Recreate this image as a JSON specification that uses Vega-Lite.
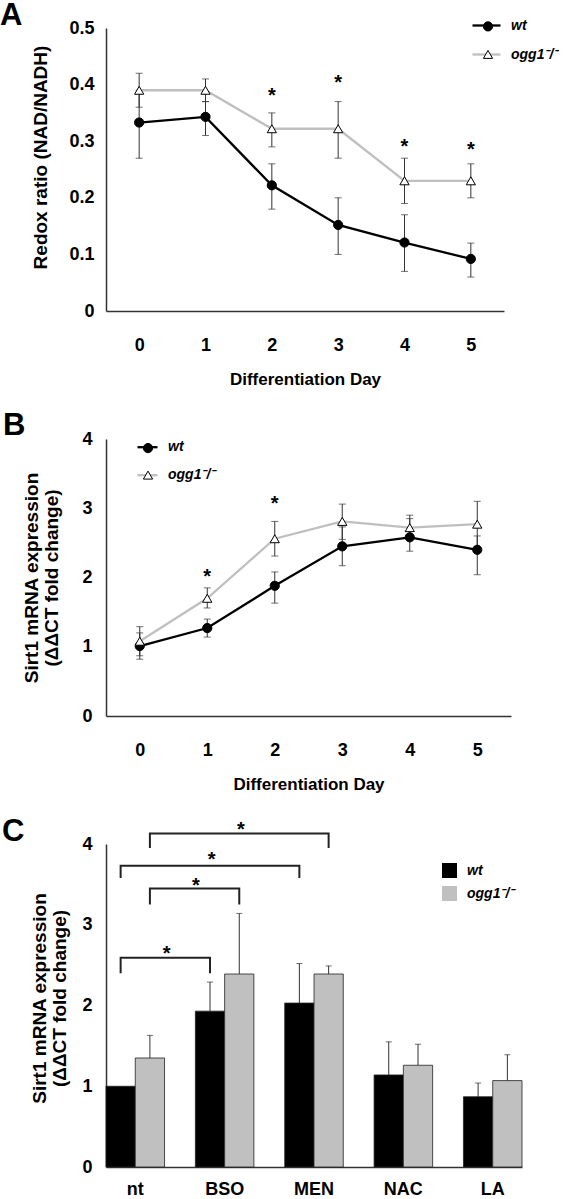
{
  "$schema": "https://vega.github.io/schema/vega-lite/v6.json",
  "padding": {"left": 0, "top": 0, "right": 0, "bottom": 0},
  "background": "white",
  "spacing": 23,
  "config": {
    "view": {"stroke": null},
    "font": "Liberation Sans",
    "axis": {"grid": false, "ticks": false, "domainColor": "#333333", "domainWidth": 1.5, "labelFont": "Liberation Sans", "labelFontWeight": "bold", "labelFontSize": 18, "labelColor": "black", "titleFont": "Liberation Sans", "titleFontWeight": "bold", "titleColor": "black", "labelOverlap": false},
    "legend": {"orient": "none", "padding": 0, "labelFont": "Liberation Sans", "labelFontStyle": "italic", "labelFontWeight": "bold", "labelFontSize": 14, "labelColor": "black"},
    "title": {"anchor": "start", "frame": "group", "fontSize": 31, "fontWeight": "bold", "font": "Liberation Sans", "color": "black", "baseline": "alphabetic"}
  },
  "resolve": {"scale": {"fill": "independent", "stroke": "independent", "shape": "independent", "color": "independent", "x": "independent", "y": "independent"}},
  "vconcat": [
    {
      "width": 398, "height": 283,
      "title": {"text": "A", "dx": -106, "offset": -22},
      "data": {"values": [
        {"day": 0, "g": "wt", "m": 0.333, "lo": 0.27, "hi": 0.39},
        {"day": 1, "g": "wt", "m": 0.343, "lo": 0.31, "hi": 0.37},
        {"day": 2, "g": "wt", "m": 0.222, "lo": 0.18, "hi": 0.26},
        {"day": 3, "g": "wt", "m": 0.152, "lo": 0.10, "hi": 0.20},
        {"day": 4, "g": "wt", "m": 0.121, "lo": 0.07, "hi": 0.17},
        {"day": 5, "g": "wt", "m": 0.092, "lo": 0.06, "hi": 0.12},
        {"day": 0, "g": "ogg1⁻/⁻", "m": 0.39, "lo": 0.36, "hi": 0.42},
        {"day": 1, "g": "ogg1⁻/⁻", "m": 0.39, "lo": 0.37, "hi": 0.41},
        {"day": 2, "g": "ogg1⁻/⁻", "m": 0.322, "lo": 0.29, "hi": 0.35},
        {"day": 3, "g": "ogg1⁻/⁻", "m": 0.322, "lo": 0.27, "hi": 0.37},
        {"day": 4, "g": "ogg1⁻/⁻", "m": 0.23, "lo": 0.19, "hi": 0.27},
        {"day": 5, "g": "ogg1⁻/⁻", "m": 0.23, "lo": 0.20, "hi": 0.26}
      ]},
      "encoding": {
        "x": {"field": "day", "type": "quantitative", "scale": {"domain": [-0.5, 5.5], "nice": false, "zero": false},
              "axis": {"values": [0, 1, 2, 3, 4, 5], "format": "d", "title": "Differentiation Day", "titleFontSize": 17, "labelPadding": 25, "titlePadding": 17}}
      },
      "layer": [
        {"mark": {"type": "rule", "color": "#333333", "strokeWidth": 1},
         "encoding": {"y": {"field": "lo", "type": "quantitative", "scale": {"domain": [0, 0.5], "nice": false},
                            "axis": {"values": [0, 0.1, 0.2, 0.3, 0.4, 0.5], "format": ".1~f", "title": "Redox ratio (NAD/NADH)", "titleFontSize": 19, "labelPadding": 12, "titlePadding": 18, "titleY": 129}},
                      "y2": {"field": "hi"}}},
        {"mark": {"type": "tick", "orient": "horizontal", "color": "#333333", "size": 7, "thickness": 1},
         "encoding": {"y": {"field": "lo", "type": "quantitative"}}},
        {"mark": {"type": "tick", "orient": "horizontal", "color": "#333333", "size": 7, "thickness": 1},
         "encoding": {"y": {"field": "hi", "type": "quantitative"}}},
        {"mark": {"type": "line", "strokeWidth": 2.3},
         "encoding": {"y": {"field": "m", "type": "quantitative"},
                      "stroke": {"field": "g", "type": "nominal", "scale": {"domain": ["wt", "ogg1⁻/⁻"], "range": ["black", "#bfbfbf"]},
                                 "legend": {"title": null, "orient": "none", "symbolType": "stroke", "symbolSize": 784, "symbolStrokeWidth": 2.3, "legendX": 365, "legendY": -18, "labelOffset": 9, "rowPadding": 6}}}},
        {"mark": {"type": "point", "filled": true, "stroke": "black", "strokeWidth": 1, "size": 85, "opacity": 1},
         "encoding": {"y": {"field": "m", "type": "quantitative"},
                      "shape": {"field": "g", "type": "nominal", "sort": ["wt", "ogg1⁻/⁻"], "scale": {"range": ["circle", "triangle-up"]},
                                "legend": {"title": null, "orient": "none", "values": ["ogg1⁻/⁻"], "symbolSize": 85, "symbolFillColor": "white", "symbolStrokeColor": "black", "symbolStrokeWidth": 1, "legendX": 375, "legendY": 19.4, "labelOpacity": 0}},
                      "color": {"field": "g", "type": "nominal", "sort": ["wt", "ogg1⁻/⁻"], "scale": {"range": ["black", "white"]},
                               "legend": {"title": null, "orient": "none", "values": ["wt"], "symbolType": "circle", "symbolSize": 85, "symbolStrokeColor": "black", "symbolStrokeWidth": 1, "legendX": 375, "legendY": -8.6, "labelOpacity": 0}}}},
        {"data": {"values": [{"day": 2, "y": 0.39}, {"day": 3, "y": 0.413}, {"day": 4, "y": 0.30}, {"day": 5, "y": 0.295}]},
         "mark": {"type": "text", "text": "*", "fontSize": 20, "fontWeight": "bold", "baseline": "middle", "dy": 6, "color": "black"},
         "encoding": {"y": {"field": "y", "type": "quantitative"}}}
      ]
    },
    {
      "width": 405, "height": 277,
      "title": {"text": "B", "dx": -103, "offset": -12},
      "data": {"values": [
        {"day": 0, "g": "wt", "m": 1.01, "lo": 0.82, "hi": 1.20},
        {"day": 1, "g": "wt", "m": 1.27, "lo": 1.14, "hi": 1.40},
        {"day": 2, "g": "wt", "m": 1.88, "lo": 1.63, "hi": 2.08},
        {"day": 3, "g": "wt", "m": 2.45, "lo": 2.17, "hi": 2.73},
        {"day": 4, "g": "wt", "m": 2.58, "lo": 2.38, "hi": 2.85},
        {"day": 5, "g": "wt", "m": 2.40, "lo": 2.04, "hi": 2.60},
        {"day": 0, "g": "ogg1⁻/⁻", "m": 1.08, "lo": 0.87, "hi": 1.29},
        {"day": 1, "g": "ogg1⁻/⁻", "m": 1.70, "lo": 1.56, "hi": 1.85},
        {"day": 2, "g": "ogg1⁻/⁻", "m": 2.56, "lo": 2.31, "hi": 2.81},
        {"day": 3, "g": "ogg1⁻/⁻", "m": 2.81, "lo": 2.55, "hi": 3.06},
        {"day": 4, "g": "ogg1⁻/⁻", "m": 2.72, "lo": 2.56, "hi": 2.90},
        {"day": 5, "g": "ogg1⁻/⁻", "m": 2.77, "lo": 2.44, "hi": 3.10}
      ]},
      "encoding": {
        "x": {"field": "day", "type": "quantitative", "scale": {"domain": [-0.5, 5.5], "nice": false, "zero": false},
              "axis": {"values": [0, 1, 2, 3, 4, 5], "format": "d", "title": "Differentiation Day", "titleFontSize": 17, "labelPadding": 25, "titlePadding": 17}}
      },
      "layer": [
        {"mark": {"type": "rule", "color": "#333333", "strokeWidth": 1},
         "encoding": {"y": {"field": "lo", "type": "quantitative", "scale": {"domain": [0, 4], "nice": false},
                            "axis": {"values": [0, 1, 2, 3, 4], "format": "d", "title": ["Sirt1 mRNA expression", "(ΔΔCT fold change)"], "titleFontSize": 19, "titleLineHeight": 20, "labelPadding": 14, "titlePadding": 20}},
                      "y2": {"field": "hi"}}},
        {"mark": {"type": "tick", "orient": "horizontal", "color": "#333333", "size": 7, "thickness": 1},
         "encoding": {"y": {"field": "lo", "type": "quantitative"}}},
        {"mark": {"type": "tick", "orient": "horizontal", "color": "#333333", "size": 7, "thickness": 1},
         "encoding": {"y": {"field": "hi", "type": "quantitative"}}},
        {"mark": {"type": "line", "strokeWidth": 2.3},
         "encoding": {"y": {"field": "m", "type": "quantitative"},
                      "stroke": {"field": "g", "type": "nominal", "scale": {"domain": ["wt", "ogg1⁻/⁻"], "range": ["black", "#bfbfbf"]},
                                 "legend": {"title": null, "orient": "none", "symbolType": "stroke", "symbolSize": 400, "symbolStrokeWidth": 2.3, "legendX": 30, "legendY": -3.3, "labelOffset": 9, "rowPadding": 9}}}},
        {"mark": {"type": "point", "filled": true, "stroke": "black", "strokeWidth": 1, "size": 85, "opacity": 1},
         "encoding": {"y": {"field": "m", "type": "quantitative"},
                      "shape": {"field": "g", "type": "nominal", "sort": ["wt", "ogg1⁻/⁻"], "scale": {"range": ["circle", "triangle-up"]},
                                "legend": {"title": null, "orient": "none", "values": ["ogg1⁻/⁻"], "symbolSize": 85, "symbolFillColor": "white", "symbolStrokeColor": "black", "symbolStrokeWidth": 1, "legendX": 35, "legendY": 29.1, "labelOpacity": 0}},
                      "color": {"field": "g", "type": "nominal", "sort": ["wt", "ogg1⁻/⁻"], "scale": {"range": ["black", "white"]},
                               "legend": {"title": null, "orient": "none", "values": ["wt"], "symbolType": "circle", "symbolSize": 85, "symbolStrokeColor": "black", "symbolStrokeWidth": 1, "legendX": 35, "legendY": 2.1, "labelOpacity": 0}}}},
        {"data": {"values": [{"day": 1, "y": 2.10}, {"day": 2, "y": 3.15}]},
         "mark": {"type": "text", "text": "*", "fontSize": 20, "fontWeight": "bold", "baseline": "middle", "dy": 6, "color": "black"},
         "encoding": {"y": {"field": "y", "type": "quantitative"}}}
      ]
    },
    {
      "width": 416, "height": 323,
      "title": {"text": "C", "dx": -104, "offset": -28},
      "data": {"values": [
        {"t": "nt", "g": "wt", "v": 1.00, "up": null},
        {"t": "nt", "g": "ogg1⁻/⁻", "v": 1.35, "up": 1.63},
        {"t": "BSO", "g": "wt", "v": 1.93, "up": 2.29},
        {"t": "BSO", "g": "ogg1⁻/⁻", "v": 2.39, "up": 3.14},
        {"t": "MEN", "g": "wt", "v": 2.03, "up": 2.52},
        {"t": "MEN", "g": "ogg1⁻/⁻", "v": 2.39, "up": 2.49},
        {"t": "NAC", "g": "wt", "v": 1.14, "up": 1.55},
        {"t": "NAC", "g": "ogg1⁻/⁻", "v": 1.26, "up": 1.52},
        {"t": "LA", "g": "wt", "v": 0.87, "up": 1.04},
        {"t": "LA", "g": "ogg1⁻/⁻", "v": 1.07, "up": 1.39}
      ]},
      "encoding": {
        "x": {"field": "t", "type": "nominal", "scale": {"domain": ["nt", "BSO", "MEN", "NAC", "LA"], "paddingInner": 0.345, "paddingOuter": 0},
              "axis": {"title": null, "labelAngle": 0, "labelPadding": 13, "domainColor": "#333333"}},
        "xOffset": {"field": "g", "type": "nominal", "scale": {"domain": ["wt", "ogg1⁻/⁻"], "paddingInner": 0, "paddingOuter": 0}}
      },
      "layer": [
        {"mark": {"type": "rule", "color": "#333333", "strokeWidth": 1},
         "transform": [{"filter": {"field": "up", "valid": true}}],
         "encoding": {"y": {"field": "v", "type": "quantitative"}, "y2": {"field": "up"}}},
        {"mark": {"type": "tick", "orient": "horizontal", "color": "#333333", "size": 6, "thickness": 1},
         "transform": [{"filter": {"field": "up", "valid": true}}],
         "encoding": {"y": {"field": "up", "type": "quantitative"}}},
        {"mark": {"type": "bar", "stroke": "#222222", "strokeWidth": 0.8},
         "encoding": {"y": {"field": "v", "type": "quantitative", "scale": {"domain": [0, 4], "nice": false},
                            "axis": {"values": [0, 1, 2, 3, 4], "format": "d", "title": ["Sirt1 mRNA expression", "(ΔΔCT fold change)"], "titleFontSize": 19, "titleLineHeight": 20, "labelPadding": 14, "titlePadding": 12, "titleY": 154}},
                      "fill": {"field": "g", "type": "nominal", "scale": {"domain": ["wt", "ogg1⁻/⁻"], "range": ["black", "#c0c0c0"]},
                               "legend": {"title": null, "orient": "none", "symbolType": "square", "symbolSize": 225, "symbolStrokeWidth": 0, "legendX": 336, "legendY": 19, "labelOffset": 10, "rowPadding": 8}}}},
        {"data": {"values": [
          {"id": 1, "t": "nt", "g": "wt", "v": 2.40, "o": 1},
          {"id": 1, "t": "nt", "g": "wt", "v": 2.59, "o": 2},
          {"id": 1, "t": "BSO", "g": "wt", "v": 2.59, "o": 3},
          {"id": 1, "t": "BSO", "g": "wt", "v": 2.40, "o": 4},
          {"id": 2, "t": "nt", "g": "ogg1⁻/⁻", "v": 3.25, "o": 1},
          {"id": 2, "t": "nt", "g": "ogg1⁻/⁻", "v": 3.45, "o": 2},
          {"id": 2, "t": "BSO", "g": "ogg1⁻/⁻", "v": 3.45, "o": 3},
          {"id": 2, "t": "BSO", "g": "ogg1⁻/⁻", "v": 3.25, "o": 4},
          {"id": 3, "t": "nt", "g": "wt", "v": 3.58, "o": 1},
          {"id": 3, "t": "nt", "g": "wt", "v": 3.73, "o": 2},
          {"id": 3, "t": "MEN", "g": "wt", "v": 3.73, "o": 3},
          {"id": 3, "t": "MEN", "g": "wt", "v": 3.58, "o": 4},
          {"id": 4, "t": "nt", "g": "ogg1⁻/⁻", "v": 3.95, "o": 1},
          {"id": 4, "t": "nt", "g": "ogg1⁻/⁻", "v": 4.13, "o": 2},
          {"id": 4, "t": "MEN", "g": "ogg1⁻/⁻", "v": 4.13, "o": 3},
          {"id": 4, "t": "MEN", "g": "ogg1⁻/⁻", "v": 3.95, "o": 4}
         ]},
         "mark": {"type": "line", "color": "#222222", "strokeWidth": 2},
         "encoding": {"y": {"field": "v", "type": "quantitative"}, "detail": {"field": "id", "type": "nominal"}, "order": {"field": "o", "type": "quantitative"}}},
        {"data": {"values": [
          {"t": "nt", "to": "BSO", "g": "wt", "v": 2.71},
          {"t": "nt", "to": "BSO", "g": "ogg1⁻/⁻", "v": 3.56},
          {"t": "nt", "to": "MEN", "g": "wt", "v": 3.87},
          {"t": "nt", "to": "MEN", "g": "ogg1⁻/⁻", "v": 4.25}
         ]},
         "layer": [
          {"transform": [{"filter": {"field": "to", "equal": "BSO"}}],
           "mark": {"type": "text", "text": "*", "fontSize": 20, "fontWeight": "bold", "baseline": "middle", "dy": 6, "dx": 46, "color": "black"},
           "encoding": {"y": {"field": "v", "type": "quantitative"}}},
          {"transform": [{"filter": {"field": "to", "equal": "MEN"}}],
           "mark": {"type": "text", "text": "*", "fontSize": 20, "fontWeight": "bold", "baseline": "middle", "dy": 6, "dx": 91, "color": "black"},
           "encoding": {"y": {"field": "v", "type": "quantitative"}}}
         ]}
      ]
    }
  ]
}
